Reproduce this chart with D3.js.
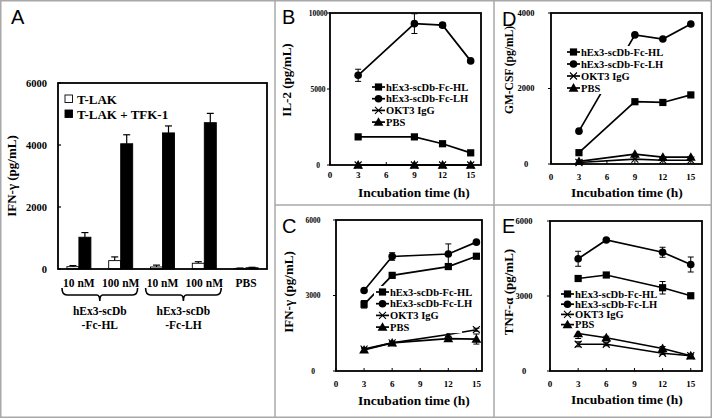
<!DOCTYPE html>
<html><head><meta charset="utf-8">
<script src="https://cdn.jsdelivr.net/npm/d3@7"></script>
<style>body{margin:0;background:#fff}svg{display:block}</style>
</head><body>
<svg id="c" width="712" height="418"></svg>
<script>
// ---------- Panel A data ----------
const aGroups = ["10 nM", "100 nM", "10 nM", "100 nM", "PBS"];
const aSeries = ["T-LAK", "T-LAK + TFK-1"];
const aTLAK = [75, 270, 65, 185, 20];
const aTLAKErr = [35, 120, 60, 50, 10];
const aTFK = [1025, 4040, 4390, 4720, 40];
const aTFKErr = [150, 290, 225, 300, 15];
const aYTicks = [0, 2000, 4000, 6000];
const aBraceLabels = [["hEx3-scDb", "-Fc-HL"], ["hEx3-scDb", "-Fc-LH"]];

// ---------- Line panels data ----------
const seriesNames = ["hEx3-scDb-Fc-HL", "hEx3-scDb-Fc-LH", "OKT3 IgG", "PBS"];
const xTicks = [0, 3, 6, 9, 12, 15];
// B: IL-2
const timesB = [3, 9, 12, 15];
const il2HL = [1850, 1850, 1400, 800];
const il2HLErr = [80, 60, 80, 60];
const il2LH = [5900, 9300, 9200, 6850];
const il2LHErr = [400, 650, 150, 100];
const il2OKT3 = [0, 0, 0, 0];
const il2PBS = [0, 0, 0, 0];
const il2Ticks = [0, 5000, 10000];
// C: IFN-γ
const timesC = [3, 6, 12, 15];
const ifnHL = [2650, 3800, 4150, 4560];
const ifnHLErr = [150, 80, 100, 80];
const ifnLH = [3200, 4550, 4650, 5120];
const ifnLHErr = [60, 150, 400, 60];
const ifnOKT3 = [870, 1120, 1450, 1640];
const ifnOKT3Err = [60, 50, 80, 60];
const ifnPBS = [840, 1120, 1290, 1270];
const ifnPBSErr = [60, 60, 100, 200];
const ifnTicks = [0, 3000, 6000];
// D: GM-CSF
const timesD = [3, 9, 12, 15];
const gmHL = [300, 1650, 1630, 1830];
const gmLH = [870, 3420, 3310, 3710];
const gmOKT3 = [40, 130, 100, 100];
const gmPBS = [70, 260, 180, 180];
const gmTicks = [0, 2000, 4000];
// E: TNF-α
const timesE = [3, 6, 12, 15];
const tnfHL = [3700, 3840, 3330, 3010];
const tnfHLErr = [60, 60, 250, 60];
const tnfLH = [4490, 5240, 4750, 4260];
const tnfLHErr = [300, 60, 200, 300];
const tnfOKT3 = [1070, 1070, 710, 610];
const tnfOKT3Err = [100, 60, 50, 40];
const tnfPBS = [1500, 1330, 900, 610];
const tnfPBSErr = [200, 60, 80, 40];
const tnfTicks = [0, 3000, 6000];

const SERIF = "'Liberation Serif','Times New Roman',serif";
const SANS = "'Liberation Sans',Arial,sans-serif";
const svg = d3.select("#c");

// frame & separators
const sep = "#a8a8a8";
svg.append("rect").attr("x", 0.75).attr("y", 0.75).attr("width", 710.5).attr("height", 416.5)
  .attr("fill", "none").attr("stroke", sep).attr("stroke-width", 1.5);
svg.append("line").attr("x1", 275).attr("x2", 275).attr("y1", 0).attr("y2", 418).attr("stroke", sep).attr("stroke-width", 1.5);
svg.append("line").attr("x1", 494).attr("x2", 494).attr("y1", 0).attr("y2", 418).attr("stroke", sep).attr("stroke-width", 1.5);
svg.append("line").attr("x1", 275).attr("x2", 712).attr("y1", 205).attr("y2", 205).attr("stroke", sep).attr("stroke-width", 1.5);

function letter(t, x, y) {
  svg.append("text").attr("x", x).attr("y", y).attr("font-family", SANS).attr("font-size", 20).text(t);
}

// ---------- Panel A ----------
(function () {
  const L = 58, R = 267, T = 83, B = 269;
  const x = d3.scaleBand().domain(d3.range(aGroups.length)).range([L, R]);
  const y = d3.scaleLinear().domain([0, 6000]).range([B, T]);
  const g = svg.append("g");
  const bw = 12;
  const sets = [
    { vals: aTLAK, errs: aTLAKErr, fill: "#fff", off: -bw },
    { vals: aTFK, errs: aTFKErr, fill: "#000", off: 0 }
  ];
  sets.forEach(s => {
    s.vals.forEach((v, i) => {
      const cx = x(i) + x.bandwidth() / 2 + s.off;
      const e = s.errs[i];
      g.append("line").attr("x1", cx + bw / 2).attr("x2", cx + bw / 2)
        .attr("y1", y(v)).attr("y2", y(v + e)).attr("stroke", "#000").attr("stroke-width", 1.2);
      g.append("line").attr("x1", cx + bw / 2 - 3.5).attr("x2", cx + bw / 2 + 3.5)
        .attr("y1", y(v + e)).attr("y2", y(v + e)).attr("stroke", "#000").attr("stroke-width", 1.2);
      g.append("rect").attr("x", cx).attr("y", y(v)).attr("width", bw).attr("height", B - y(v))
        .attr("fill", s.fill).attr("stroke", "#000").attr("stroke-width", 0.9);
    });
  });
  g.append("rect").attr("x", L).attr("y", T).attr("width", R - L).attr("height", B - T)
    .attr("fill", "none").attr("stroke", "#000").attr("stroke-width", 1.8);
  aYTicks.forEach(t => {
    g.append("line").attr("x1", L).attr("x2", L + 3).attr("y1", y(t)).attr("y2", y(t)).attr("stroke", "#000").attr("stroke-width", 1.2);
    g.append("text").attr("x", 47).attr("y", y(t)).attr("dy", "0.35em").attr("text-anchor", "end")
      .attr("font-family", SERIF).attr("font-weight", "bold").attr("font-size", 10.5).text(t);
  });
  aGroups.forEach((t, i) => {
    g.append("text").attr("x", x(i) + x.bandwidth() / 2).attr("y", 287).attr("text-anchor", "middle")
      .attr("font-family", SERIF).attr("font-weight", "bold").attr("font-size", 11.5).text(t);
  });
  aBraceLabels.forEach((lab, k) => {
    const x0 = x(2 * k) + 4, x1 = x(2 * k + 1) + x.bandwidth() - 4, xm = (x0 + x1) / 2;
    const yt = 288, yb = 295;
    const p = `M${x0},${yt} Q${x0},${yb} ${x0 + 5},${yb} L${xm - 3},${yb} Q${xm},${yb} ${xm},${yb + 6} Q${xm},${yb} ${xm + 3},${yb} L${x1 - 5},${yb} Q${x1},${yb} ${x1},${yt}`;
    g.append("path").attr("d", p).attr("fill", "none").attr("stroke", "#000").attr("stroke-width", 1.6);
    lab.forEach((s, j) => {
      g.append("text").attr("x", xm).attr("y", 315 + j * 14).attr("text-anchor", "middle")
        .attr("font-family", SERIF).attr("font-weight", "bold").attr("font-size", 11.5).text(s);
    });
  });
  g.append("text").attr("transform", "translate(16,176) rotate(-90)").attr("text-anchor", "middle")
    .attr("font-family", SERIF).attr("font-weight", "bold").attr("font-size", 13).text("IFN-γ (pg/mL)");
  aSeries.forEach((s, i) => {
    const yy = 99 + i * 15;
    g.append("rect").attr("x", 65).attr("y", yy - 4).attr("width", 7.5).attr("height", 7.5)
      .attr("fill", i ? "#000" : "#fff").attr("stroke", "#000").attr("stroke-width", 0.9);
    g.append("text").attr("x", 77).attr("y", yy).attr("dy", "0.35em")
      .attr("font-family", SERIF).attr("font-weight", "bold").attr("font-size", 13).text(s);
  });
  letter("A", 11, 24);
})();

// ---------- line panels ----------
function marker(g, type, cx, cy) {
  if (type === 0) g.append("rect").attr("x", cx - 3.6).attr("y", cy - 3.6).attr("width", 7.2).attr("height", 7.2).attr("fill", "#000");
  else if (type === 1) g.append("circle").attr("cx", cx).attr("cy", cy).attr("r", 3.8).attr("fill", "#000");
  else if (type === 2) g.append("path").attr("d", `M${cx - 3.5},${cy - 3.5}L${cx + 3.5},${cy + 3.5}M${cx - 3.5},${cy + 3.5}L${cx + 3.5},${cy - 3.5}`)
    .attr("stroke", "#000").attr("stroke-width", 1.1).attr("fill", "none");
  else g.append("path").attr("d", d3.symbol(d3.symbolTriangle, 42)()).attr("transform", `translate(${cx},${cy + 0.8})`).attr("fill", "#000");
}

function linePanel(c) {
  const x = d3.scaleLinear().domain([0, c.xMax]).range([c.L, c.R]);
  const y = d3.scaleLinear().domain([0, c.yMax]).range([c.B, c.T]);
  const g = svg.append("g");
  const line = d3.line().x(d => x(d[0])).y(d => y(d[1]));
  c.series.forEach((vals) => {
    const pts = c.times.map((t, i) => [t, vals[i]]);
    g.append("path").attr("d", line(pts)).attr("fill", "none").attr("stroke", "#000").attr("stroke-width", 1.7);
  });
  c.series.forEach((vals, s) => {
    const errs = c.errs[s];
    if (!errs) return;
    c.times.forEach((t, i) => {
      const e = errs[i]; if (!e) return;
      const cx = x(t), v = vals[i];
      g.append("line").attr("x1", cx).attr("x2", cx).attr("y1", y(Math.max(0, v - e))).attr("y2", y(v + e)).attr("stroke", "#000").attr("stroke-width", 1);
      [v - e, v + e].forEach(w => {
        if (w < 0) return;
        g.append("line").attr("x1", cx - 3).attr("x2", cx + 3).attr("y1", y(w)).attr("y2", y(w)).attr("stroke", "#000").attr("stroke-width", 1);
      });
    });
  });
  c.series.forEach((vals, s) => {
    c.times.forEach((t, i) => marker(g, s, x(t), y(vals[i])));
  });
  g.append("rect").attr("x", c.L).attr("y", c.T).attr("width", c.R - c.L).attr("height", c.B - c.T)
    .attr("fill", "none").attr("stroke", "#000").attr("stroke-width", 1.8);
  c.yTicks.forEach(t => {
    g.append("line").attr("x1", c.L - 3).attr("x2", c.L).attr("y1", y(t)).attr("y2", y(t)).attr("stroke", "#000").attr("stroke-width", 1);
    g.append("text").attr("x", c.yTickX).attr("y", y(t)).attr("dy", "0.35em").attr("text-anchor", "middle")
      .attr("font-family", SERIF).attr("font-weight", "bold").attr("font-size", c.yFs).text(t);
  });
  xTicks.forEach(t => {
    g.append("line").attr("x1", x(t)).attr("x2", x(t)).attr("y1", c.B).attr("y2", c.B - 3).attr("stroke", "#000").attr("stroke-width", 1);
    g.append("text").attr("x", x(t)).attr("y", c.xTickBase).attr("text-anchor", "middle")
      .attr("font-family", SERIF).attr("font-weight", "bold").attr("font-size", 9).text(t);
  });
  g.append("text").attr("x", c.titleX).attr("y", c.titleBase).attr("text-anchor", "middle")
    .attr("font-family", SERIF).attr("font-weight", "bold").attr("font-size", 13.5).text("Incubation time (h)");
  g.append("text").attr("transform", `translate(${c.ylx},${c.yly}) rotate(-90)`).attr("text-anchor", "middle")
    .attr("font-family", SERIF).attr("font-weight", "bold").attr("font-size", c.ylFs).text(c.ylabel);
  const lg = g.append("g");
  const lw = 88;
  lg.append("rect").attr("x", c.lx - 2).attr("y", c.ly - 6).attr("width", lw).attr("height", 3 * c.ldy + 12).attr("fill", "#fff");
  seriesNames.forEach((s, i) => {
    const yy = c.ly + i * c.ldy;
    lg.append("line").attr("x1", c.lx).attr("x2", c.lx + 13).attr("y1", yy).attr("y2", yy).attr("stroke", "#000").attr("stroke-width", 1.7);
    marker(lg, i, c.lx + 6.5, yy);
    lg.append("text").attr("x", c.lx + 14).attr("y", yy).attr("dy", "0.35em")
      .attr("font-family", SERIF).attr("font-weight", "bold").attr("font-size", 10.5).text(s);
  });
  letter(c.letter, c.letX, c.letY);
}

linePanel({ L: 330, R: 481, T: 13, B: 165, xMax: 16.1, yMax: 10000, yTicks: il2Ticks, yTickX: 318, yFs: 7.5,
  times: timesB, series: [il2HL, il2LH, il2OKT3, il2PBS], errs: [il2HLErr, il2LHErr, null, null],
  xTickBase: 178, titleX: 414, titleBase: 197, ylabel: "IL-2 (pg/mL)", ylx: 291, yly: 80, ylFs: 13,
  lx: 372, ly: 87, ldy: 11.7, letter: "B", letX: 282, letY: 24 });

linePanel({ L: 336, R: 482, T: 220, B: 371, xMax: 15.6, yMax: 6000, yTicks: ifnTicks, yTickX: 313, yFs: 7.5,
  times: timesC, series: [ifnHL, ifnLH, ifnOKT3, ifnPBS], errs: [ifnHLErr, ifnLHErr, ifnOKT3Err, ifnPBSErr],
  xTickBase: 387, titleX: 414, titleBase: 405, ylabel: "IFN-γ (pg/mL)", ylx: 293, yly: 292, ylFs: 13,
  lx: 376, ly: 292, ldy: 11.7, letter: "C", letX: 282, letY: 233 });

linePanel({ L: 551, R: 702, T: 13, B: 164, xMax: 16.2, yMax: 4000, yTicks: gmTicks, yTickX: 526, yFs: 8.5,
  times: timesD, series: [gmHL, gmLH, gmOKT3, gmPBS], errs: [null, null, null, null],
  xTickBase: 180, titleX: 627, titleBase: 197, ylabel: "GM-CSF (pg/mL)", ylx: 513, yly: 70, ylFs: 11.5,
  lx: 567, ly: 52, ldy: 12, letter: "D", letX: 502, letY: 26 });

linePanel({ L: 550, R: 702, T: 221, B: 371, xMax: 16.2, yMax: 6000, yTicks: tnfTicks, yTickX: 524, yFs: 8.5,
  times: timesE, series: [tnfHL, tnfLH, tnfOKT3, tnfPBS], errs: [tnfHLErr, tnfLHErr, tnfOKT3Err, tnfPBSErr],
  xTickBase: 387, titleX: 627, titleBase: 404, ylabel: "TNF-α (pg/mL)", ylx: 513, yly: 292, ylFs: 13,
  lx: 561, ly: 294, ldy: 10.2, letter: "E", letX: 502, letY: 233 });
</script>
</body></html>
